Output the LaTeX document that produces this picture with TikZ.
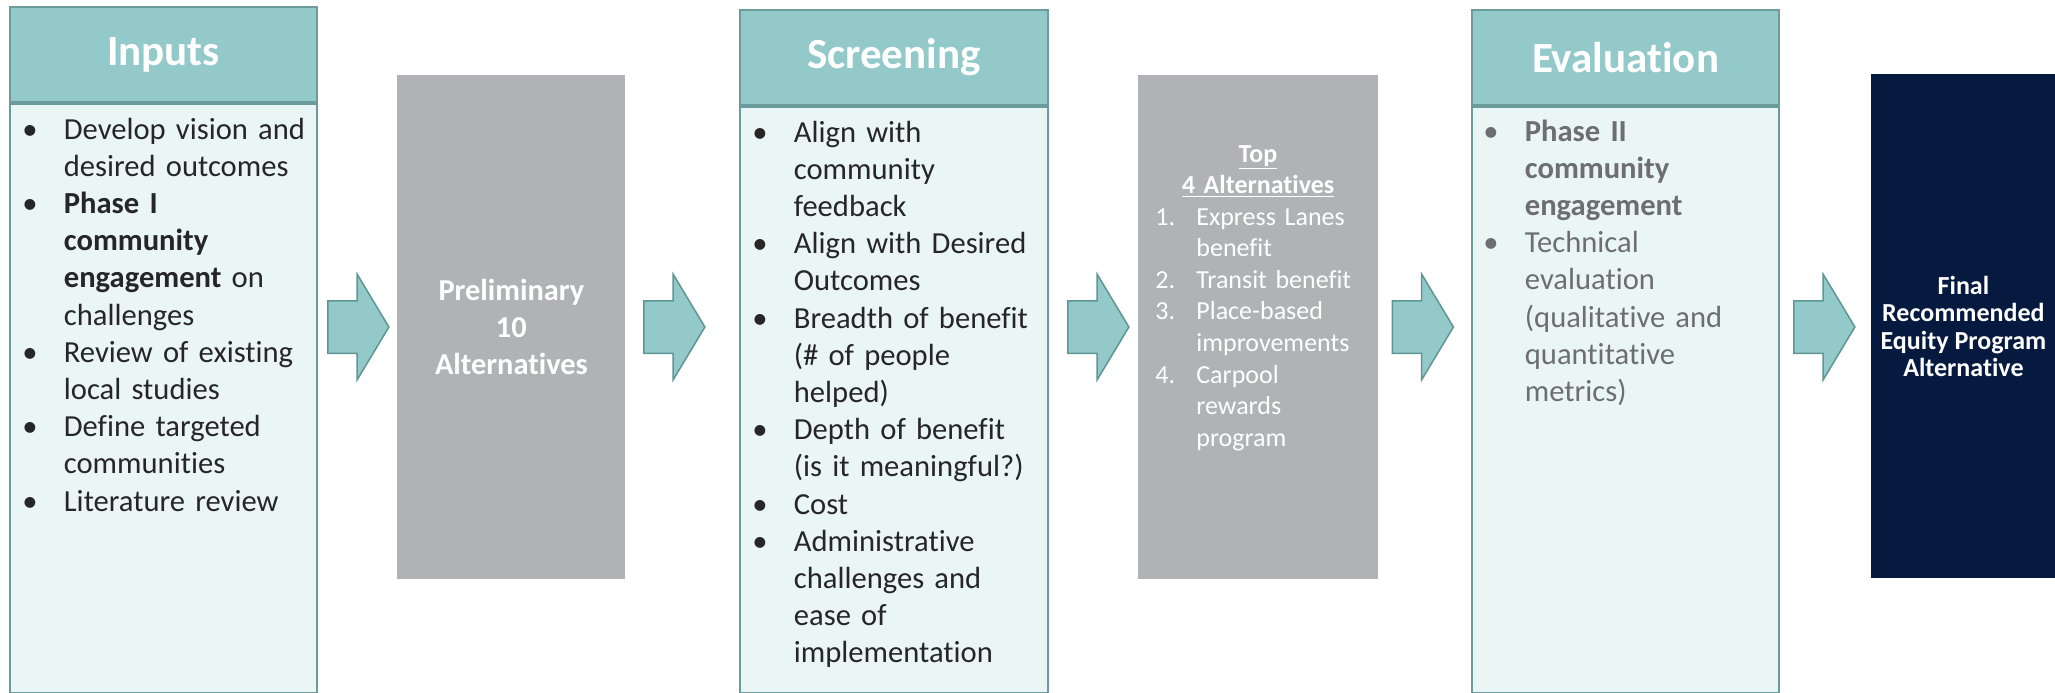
\documentclass[tikz,border=0pt]{standalone}
\usepackage{fontspec}
\setmainfont{Carlito}[Ligatures=CommonOff]
\usetikzlibrary{positioning, shapes.arrows}
\definecolor{headteal}{HTML}{93CAC9}
\definecolor{bodyteal}{HTML}{EAF6F6}
\definecolor{stageline}{HTML}{6B9C9B}
\definecolor{arrowline}{HTML}{5E9695}
\definecolor{outgray}{HTML}{B1B2B6}
\definecolor{finalnavy}{HTML}{061A40}
\definecolor{bodyink}{HTML}{262626}
\definecolor{evalink}{HTML}{6D6E71}

% one list entry with hanging indent: \bul{text} or \num{label}{text}
\newcommand\bul[1]{\noindent\hangindent=20.75pt\hangafter=1\makebox[20.75pt][l]{\textbullet}\ignorespaces#1\par}
\newcommand\num[2]{\noindent\hangindent=20.5pt\hangafter=1\makebox[20.5pt][l]{#1}\ignorespaces#2\par}

\tikzset{
  stagehead/.style={draw=stageline, line width=1pt, fill=headteal, text=white,
    font=\fontsize{21.5}{26}\selectfont\bfseries, anchor=north west, inner sep=0pt,
    minimum height=47.5pt},
  stagebody/.style={draw=stageline, line width=1pt, fill=bodyteal, anchor=north, inner sep=0pt},
  outcome/.style={fill=outgray, anchor=north west, inner sep=0pt, text=white, align=center,
    minimum height=252pt},
  listtext/.style={anchor=base west, inner sep=0pt, text width=150pt, text=bodyink,
    font=\fontsize{15.3}{18.6}\selectfont},
  blockarrow/.style={single arrow, draw=arrowline, fill=headteal, line width=0.75pt,
    inner xsep=0pt, inner ysep=12.75pt, minimum height=30.5pt, minimum width=52pt,
    single arrow head extend=13.25pt, single arrow tip angle=118, single arrow head indent=0pt},
}

\begin{document}
\begin{tikzpicture}[x=0.5pt, y=-0.5pt]
  \useasboundingbox (0,0) rectangle (2055,692);

  % inputs
  \node[stagehead, minimum width=153.5pt] (inputs) at (9,6) {Inputs};
  \node[stagebody, minimum width=153.5pt, minimum height=294.5pt] (inputs body) at (inputs.south) {};
  \node[listtext] (inputs list) at (22,139) {%
    \bul{Develop vision and\newline desired outcomes}%
    \bul{\textbf{Phase I\newline community\newline engagement} on\newline challenges}%
    \bul{Review of existing\newline local studies}%
    \bul{Define targeted\newline communities}%
    \bul{Literature review}};

  % preliminary alternatives
  \node[outcome, minimum width=114pt, font=\fontsize{15.2}{18.5}\selectfont\bfseries] (prelim) at (397,75)
    {Preliminary\\10\\Alternatives};

  % screening
  \node[stagehead, minimum width=154pt] (screen) at (739,9) {Screening};
  \node[stagebody, minimum width=154pt, minimum height=293pt] (screen body) at (screen.south) {};
  \node[listtext] (screen list) at (752,142) {%
    \bul{Align with\newline community\newline feedback}%
    \bul{Align with Desired\newline Outcomes}%
    \bul{Breadth of benefit\newline (\# of people\newline helped)}%
    \bul{Depth of benefit\newline (is it meaningful?)}%
    \bul{Cost}%
    \bul{Administrative\newline challenges and\newline ease of\newline implementation}};

  % top alternatives
  \node[outcome, minimum width=120pt] (top) at (1138,75) {};
  \node[anchor=base, inner sep=0pt, text width=110pt, align=center, text=white,
    font=\fontsize{13}{15.7}\selectfont\bfseries] (top title) at (1258,162)
    {\underline{Top}\\\underline{4 Alternatives}};
  \node[listtext, text=white, text width=103pt, font=\fontsize{13}{15.8}\selectfont] (top list) at (1155,225) {%
    \num{1.}{Express Lanes\newline benefit}%
    \num{2.}{Transit benefit}%
    \num{3.}{Place-based\newline improvements}%
    \num{4.}{Carpool\newline rewards\newline program}};

  % evaluation
  \node[stagehead, minimum width=153.5pt] (eval) at (1471,9) {Evaluation};
  \node[stagebody, minimum width=153.5pt, minimum height=293pt] (eval body) at (eval.south) {};
  \node[listtext, text=evalink] (eval list) at (1483,141) {%
    \bul{\textbf{Phase II\newline community\newline engagement}}%
    \bul{Technical\newline evaluation\newline (qualitative and\newline quantitative\newline metrics)}};

  % final alternative
  \node[outcome, fill=finalnavy, minimum width=92pt, font=\fontsize{13}{13.8}\selectfont\bfseries] (final) at (1871,74)
    {Final\\Recommended\\Equity Program\\Alternative};

  % arrows between the steps
  \node[blockarrow] (arr1) at (350.5,327) {};
  \node[blockarrow] (arr2) at (666.5,327) {};
  \node[blockarrow] (arr3) at (1090.5,327) {};
  \node[blockarrow] (arr4) at (1415,327) {};
  \node[blockarrow] (arr5) at (1816.5,327) {};
\end{tikzpicture}
\end{document}
